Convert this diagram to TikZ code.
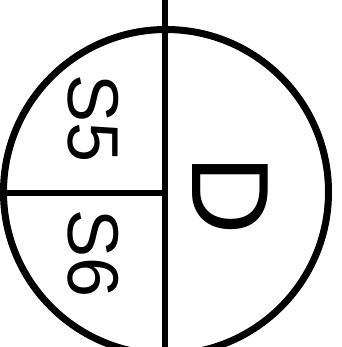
\documentclass[tikz,border=0pt]{standalone}
\usepackage{fontspec}
\setmainfont{Liberation Sans}
\begin{document}
\begin{tikzpicture}[x=1pt,y=-1pt,
  ringstyle/.style={circle, draw=black, line width=7pt, minimum size=325pt, inner sep=0pt},
  divider/.style={draw=black, line width=6pt},
  smalllabel/.style={rotate=-90, inner sep=0pt, font=\fontsize{72}{72}\selectfont},
  biglabel/.style={rotate=-90, inner sep=0pt, font=\fontsize{110}{110}\selectfont}]
\useasboundingbox (0,0) rectangle (341,347);
\node[ringstyle] (ring) at (166,192) {};
\coordinate (top) at (164.5,-5);
\coordinate (bot) at (164.5,352);
\coordinate (left) at (4,193);
\coordinate (mid) at (164.5,193);
\draw[divider] (top) -- (bot);
\draw[divider] (left) -- (mid);
\node[smalllabel] (s5) at (93,119) {S5};
\node[smalllabel] (s6) at (93,254) {S6};
\node[biglabel] (d) at (230,195) {D};
\end{tikzpicture}
\end{document}
